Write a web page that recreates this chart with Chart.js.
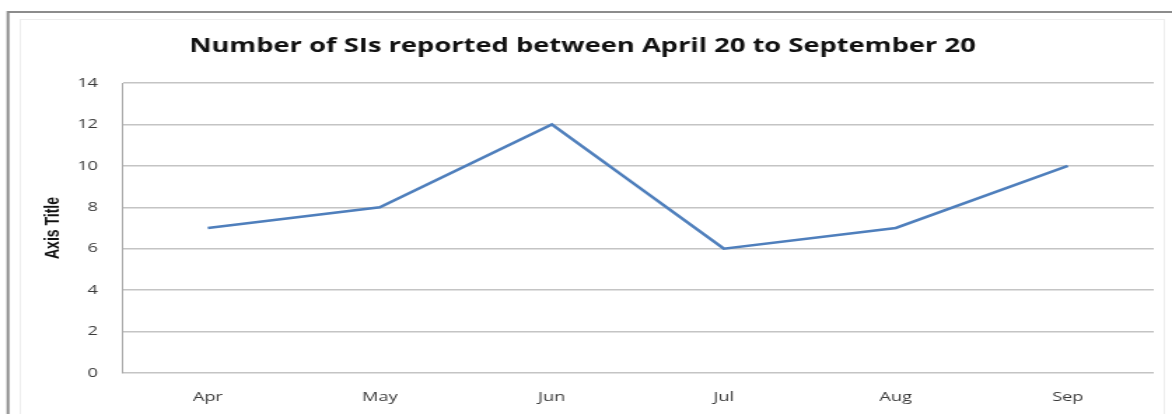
<!DOCTYPE html>
<html>
<head>
<meta charset="utf-8">
<script src="https://cdn.jsdelivr.net/npm/chart.js@4.4.0/dist/chart.umd.min.js"></script>
<style>
  html, body { margin: 0; padding: 0; background: #fff; overflow: hidden; }
  #wrap { width: 1172px; height: 414px; position: relative; overflow: hidden; }
  /* the source picture is stretched sideways, so the canvas is too */
  #si-chart { display: block; transform-origin: 0 0; transform: scaleX(1.40024); }
</style>
</head>
<body>
<div id="wrap"><canvas id="si-chart" width="837" height="414"></canvas></div>
<script>
// chart data
const months = ['Apr', 'May', 'Jun', 'Jul', 'Aug', 'Sep'];
const siCounts = [7, 8, 12, 6, 7, 10];
const yTicks = [0, 2, 4, 6, 8, 10, 12, 14];

// frame lines around the chart, like the spreadsheet export
const framePlugin = {
  id: 'frame',
  beforeDraw: function(chart){
    const c = chart.ctx;
    c.save();
    c.strokeStyle = '#8c8c8c';
    c.lineWidth = 2;
    c.beginPath();
    c.moveTo(5.7, 414);
    c.lineTo(5.7, 12);
    c.lineTo(837, 12);
    c.stroke();
    c.strokeStyle = '#ededed';
    c.lineWidth = 1;
    c.strokeRect(14.5, 19.5, 817, 400);
    c.restore();
  }
};

const ctx = document.getElementById('si-chart').getContext('2d');
new Chart(ctx, {
  type: 'line',
  data: {
    labels: months,
    datasets: [{
      label: 'SIs',
      data: siCounts,
      borderColor: '#4f7fbc',
      borderWidth: 2.6,
      pointRadius: 0,
      tension: 0,
      fill: false
    }]
  },
  options: {
    responsive: false,
    animation: false,
    layout: { padding: { left: 8, right: 13, top: 0, bottom: 6 } },
    plugins: {
      legend: { display: false },
      tooltip: { enabled: false },
      title: {
        display: true,
        text: 'Number of SIs reported between April 20 to September 20',
        color: '#111',
        font: { family: 'Open Sans', size: 19.5, weight: 'bold', lineHeight: 1.2 },
        padding: { top: 34.5, bottom: 25.1 }
      }
    },
    scales: {
      x: {
        offset: true,
        afterFit: function(scale){ scale.height = 35; },
        grid: { display: false, drawTicks: false },
        border: { display: false },
        ticks: { color: '#3a3a3a', padding: 16, font: { family: 'Open Sans', size: 13 } }
      },
      y: {
        min: 0,
        max: 14,
        afterBuildTicks: function(scale){
          scale.ticks = yTicks.map(function(v){ return { value: v }; });
        },
        afterFit: function(scale){ scale.width = 79; },
        grid: { color: '#c4c4c4', lineWidth: 1.5, drawTicks: false },
        border: { display: true, color: '#a6a6a6', width: 1 },
        ticks: { color: '#3a3a3a', padding: 17, font: { family: 'Open Sans', size: 13 } },
        title: {
          display: true,
          text: 'Axis Title',
          color: '#111',
          padding: { top: 21.6, bottom: 0 },
          font: { family: 'Liberation Sans', size: 14, weight: 'bold', lineHeight: 1.2 }
        }
      }
    }
  },
  plugins: [framePlugin]
});
</script>
</body>
</html>
